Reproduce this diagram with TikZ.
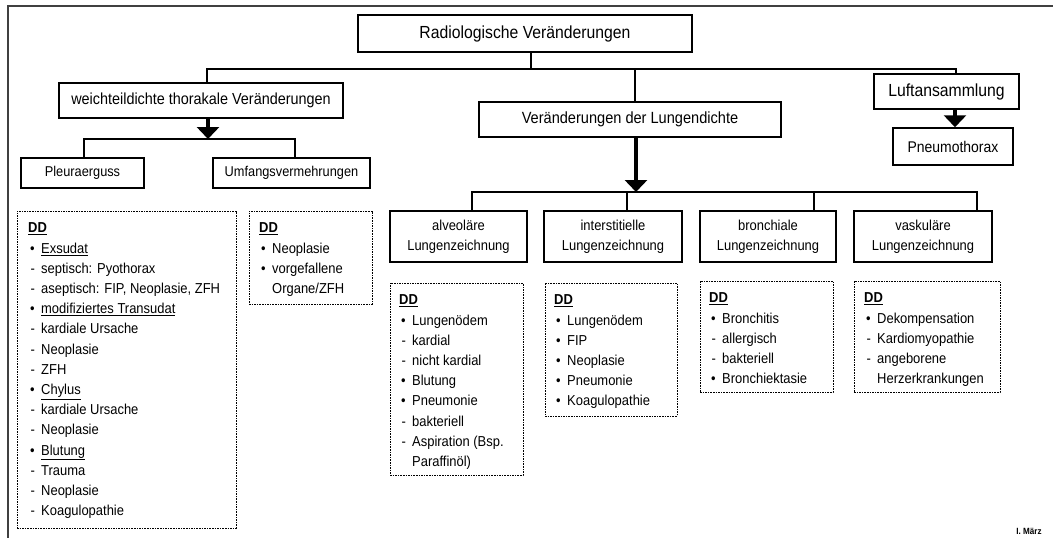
\documentclass[tikz,border=0pt]{standalone}
\usepackage{fontspec}
\setmainfont{Liberation Sans}[FakeStretch=0.9]
\usetikzlibrary{arrows.meta}

\newcommand{\bl}{\makebox[13pt][l]{\hspace{2pt}•}}
\newcommand{\ds}{\makebox[13pt][l]{\hspace{2.5pt}-}}
\newcommand{\ii}{\hspace*{13pt}}
\newcommand{\ddh}{\textbf{\underline{DD}}}

\begin{document}
\begin{tikzpicture}[x=1pt,y=-1pt,
  thickbox/.style={draw, line width=2.8pt, inner sep=0pt, align=center},
  thinbox/.style={draw, line width=1.5pt, inner sep=0pt, align=center},
  ddbox/.style={draw, line width=0.9pt, dash pattern=on 1.6pt off 1.0pt, inner sep=0pt},
  ddtext/.style={anchor=north west, inner sep=0pt, align=left, font=\fontsize{14.4}{20.2}\selectfont},
  conn/.style={line width=2.7pt},
  bigarrow/.style={line width=4pt, -{Triangle[width=22pt,length=12pt]}},
  ]
\useasboundingbox (0,0) rectangle (1053,538);
\draw[line width=1.2pt, black!75] (8,538) -- (8,6) -- (1053,6);

% main boxes
\node[thickbox, minimum width=334pt, minimum height=37pt, font=\fontsize{17.5}{20}\selectfont] (rad) at (525,33.5) {Radiologische Veränderungen};
\node[thickbox, minimum width=284pt, minimum height=35pt, font=\fontsize{16}{20}\selectfont] (weich) at (201,100.5) {weichteildichte thorakale Veränderungen};
\node[thickbox, minimum width=302pt, minimum height=35pt, font=\fontsize{16.2}{20}\selectfont] (lung) at (630,119.5) {Veränderungen der Lungendichte};
\node[thickbox, minimum width=145pt, minimum height=35pt, font=\fontsize{17.5}{20}\selectfont] (luft) at (946.5,91.5) {Luftansammlung};
\node[thinbox, minimum width=120pt, minimum height=37pt, font=\fontsize{15.5}{20}\selectfont] (pneu) at (953,146.5) {Pneumothorax};
\node[thinbox, minimum width=123pt, minimum height=30pt, font=\fontsize{14.2}{20}\selectfont] (pleura) at (82.5,173) {Pleuraerguss};
\node[thinbox, minimum width=157pt, minimum height=30pt, font=\fontsize{14.2}{20}\selectfont] (umfang) at (291.5,173) {Umfangsvermehrungen};

\node[thinbox, minimum width=137pt, minimum height=51pt, font=\fontsize{14.4}{20}\selectfont] (alv) at (458.5,236.5) {alveoläre\\Lungenzeichnung};
\node[thinbox, minimum width=138pt, minimum height=51pt, font=\fontsize{14.4}{20}\selectfont] (inter) at (613,236.5) {interstitielle\\Lungenzeichnung};
\node[thinbox, minimum width=136pt, minimum height=51pt, font=\fontsize{14.4}{20}\selectfont] (bron) at (768,236.5) {bronchiale\\Lungenzeichnung};
\node[thinbox, minimum width=138pt, minimum height=51pt, font=\fontsize{14.4}{20}\selectfont] (vask) at (923,236.5) {vaskuläre\\Lungenzeichnung};

% connectors top
\coordinate (j0) at (531,69);
\coordinate (bL) at (207,69);
\coordinate (bR) at (956,69);
\coordinate (bM) at (635,69);
\draw[conn] (j0 |- rad.south) -- (j0);
\draw[conn] (bL |- weich.north) -- (bL) -- (bR) -- (bR |- luft.north);
\draw[conn] (bM) -- (bM |- lung.north);

% weichteil branch
\coordinate (a1) at (208,139);
\draw[bigarrow] (a1 |- weich.south) -- (a1);
\coordinate (p1) at (84,139);
\coordinate (p2) at (295,139);
\draw[conn] (p1 |- pleura.north) -- (p1) -- (p2) -- (p2 |- umfang.north);

% lung branch
\coordinate (a2) at (636,192);
\draw[bigarrow] (a2 |- lung.south) -- (a2);
\coordinate (q1) at (472,192);
\coordinate (q2) at (627,192);
\coordinate (q3) at (814,192);
\coordinate (q4) at (977,192);
\draw[conn] (q1 |- alv.north) -- (q1) -- (q4) -- (q4 |- vask.north);
\draw[conn] (q2) -- (q2 |- inter.north);
\draw[conn] (q3) -- (q3 |- bron.north);

% luft branch
\coordinate (a3) at (955,120);
\draw[bigarrow] (a3 |- luft.south) -- (a3 |- pneu.north);

% DD boxes
\node[ddbox, minimum width=219pt, minimum height=317pt] (dd1) at (126.5,369.5) {};
\node[ddbox, minimum width=123pt, minimum height=93pt] (dd2) at (310.5,257.5) {};
\node[ddbox, minimum width=133pt, minimum height=192pt] (dd3) at (456.5,379) {};
\node[ddbox, minimum width=132pt, minimum height=133pt] (dd4) at (611,349.5) {};
\node[ddbox, minimum width=133pt, minimum height=111pt] (dd5) at (766.5,336.5) {};
\node[ddbox, minimum width=146pt, minimum height=111pt] (dd6) at (927,336.5) {};

\node[ddtext] (t1) at (28,222.85) {\ddh\\
\bl\underline{Exsudat}\\
\ds septisch: Pyothorax\\
\ds aseptisch: FIP, Neoplasie, ZFH\\
\bl\underline{modifiziertes Transudat}\\
\ds kardiale Ursache\\
\ds Neoplasie\\
\ds ZFH\\
\bl\underline{Chylus}\\
\ds kardiale Ursache\\
\ds Neoplasie\\
\bl\underline{Blutung}\\
\ds Trauma\\
\ds Neoplasie\\
\ds Koagulopathie};

\node[ddtext] (t2) at (259,222.85) {\ddh\\
\bl Neoplasie\\
\bl vorgefallene\\
\ii Organe/ZFH};

\node[ddtext] (t3) at (399,294.85) {\ddh\\
\bl Lungenödem\\
\ds kardial\\
\ds nicht kardial\\
\bl Blutung\\
\bl Pneumonie\\
\ds bakteriell\\
\ds Aspiration (Bsp.\\
\ii Paraffinöl)};

\node[ddtext] (t4) at (554,294.85) {\ddh\\
\bl Lungenödem\\
\bl FIP\\
\bl Neoplasie\\
\bl Pneumonie\\
\bl Koagulopathie};

\node[ddtext] (t5) at (709,292.85) {\ddh\\
\bl Bronchitis\\
\ds allergisch\\
\ds bakteriell\\
\bl Bronchiektasie};

\node[ddtext] (t6) at (864,292.85) {\ddh\\
\bl Dekompensation\\
\ds Kardiomyopathie\\
\ds angeborene\\
\ii Herzerkrankungen};

\node[font=\bfseries\fontsize{9}{10}\selectfont, inner sep=0pt] (sig) at (1029,531) {I. März};
\end{tikzpicture}
\end{document}
